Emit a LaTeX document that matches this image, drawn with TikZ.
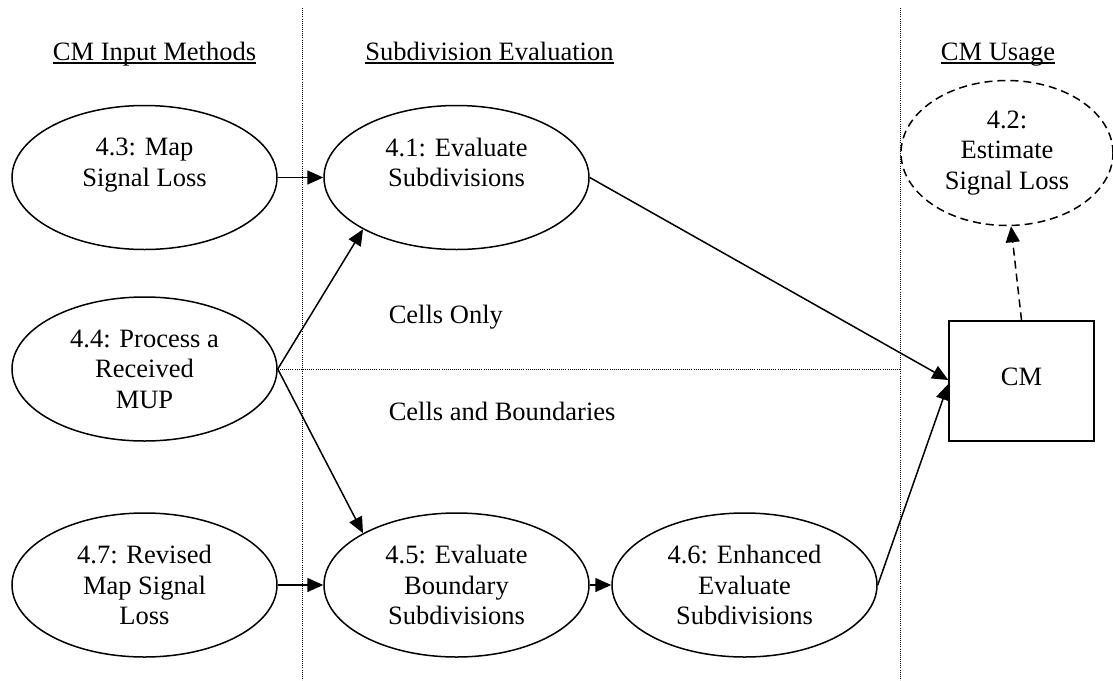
\documentclass[tikz,border=0pt]{standalone}
\usepackage{fontspec}
\setmainfont{Liberation Serif}
\usetikzlibrary{shapes.geometric,arrows.meta}

\tikzset{
  every node/.style={font=\fontsize{26.5pt}{30.5pt}\selectfont},
  proc/.style={ellipse, draw, line width=1.5pt, minimum width=265pt,
    minimum height=144pt, inner sep=0pt, align=center},
  future/.style={proc, dash pattern=on 8pt off 5pt, minimum width=212pt,
    minimum height=145pt},
  store/.style={rectangle, draw, line width=1.5pt, minimum width=145pt,
    minimum height=120pt, inner sep=0pt, text height=17.5pt, text depth=9.5pt},
  flow/.style={line width=1.5pt, -{Triangle[length=16pt,width=14pt]}},
  maybeflow/.style={flow, dash pattern=on 8pt off 5pt},
  divider/.style={line width=1pt, dash pattern=on 1pt off 1.1pt},
  heading/.style={anchor=base, inner sep=0pt},
  caption/.style={anchor=base west, inner sep=0pt},
  rule/.style={line width=1.4pt}
}

\begin{document}
\begin{tikzpicture}[x=1pt, y=-1pt]
  \useasboundingbox (0,0) rectangle (1113,680);

  % column and row separators
  \draw[divider] (302,8) -- (302,680);
  \draw[divider] (900,8) -- (900,680);

  % column headings
  \node[heading] (hin)  at (154.5,60) {CM Input Methods};
  \node[heading] (hsub) at (489.5,60) {Subdivision Evaluation};
  \node[heading] (huse) at (998,60)   {CM Usage};
  \foreach \h in {hin,hsub,huse}
    \draw[rule] ([yshift=-3pt]\h.base west) -- ([yshift=-3pt]\h.base east);

  % processes
  \node[proc] (p43) at (144.5,177.5) {4.3: Map\\Signal Loss\\\mbox{}};
  \node[proc] (p44) at (144.5,369)   {4.4: Process a\\Received\\MUP};
  \node[proc] (p47) at (144.5,585)   {4.7: Revised\\Map Signal\\Loss};
  \node[proc] (p41) at (456.5,177.5) {4.1: Evaluate\\Subdivisions\\\mbox{}};
  \node[proc] (p45) at (456.5,585)   {4.5: Evaluate\\Boundary\\Subdivisions};
  \node[proc] (p46) at (744.5,585)   {4.6: Enhanced\\Evaluate\\Subdivisions};
  \node[future] (p42) at (1007,153)  {4.2:\\Estimate\\Signal Loss};

  % coverage map store
  \node[store] (cm) at (1021.5,381) {CM};

  % split between the two evaluation paths
  \draw[divider] (p44.east) -- (900,369);
  \node[caption] (lcells) at (388.6,323) {Cells Only};
  \node[caption] (lbound) at (388.6,420) {Cells and Boundaries};

  % data flows
  \draw[flow] (p43.east) -- (p41.west);
  \draw[flow] (p44.east) -- (p41.209.6);
  \draw[flow] (p44.east) -- (p45.151);
  \draw[flow] (p47.east) -- (p45.west);
  \draw[flow] (p45.east) -- (p46.west);
  \draw[flow] (p41.east) -- ([yshift=1pt]cm.west);
  \draw[flow] (p46.east) -- ([yshift=-3pt]cm.west);
  \draw[maybeflow] (cm.north) -- ([xshift=4pt]p42.south);
\end{tikzpicture}
\end{document}
